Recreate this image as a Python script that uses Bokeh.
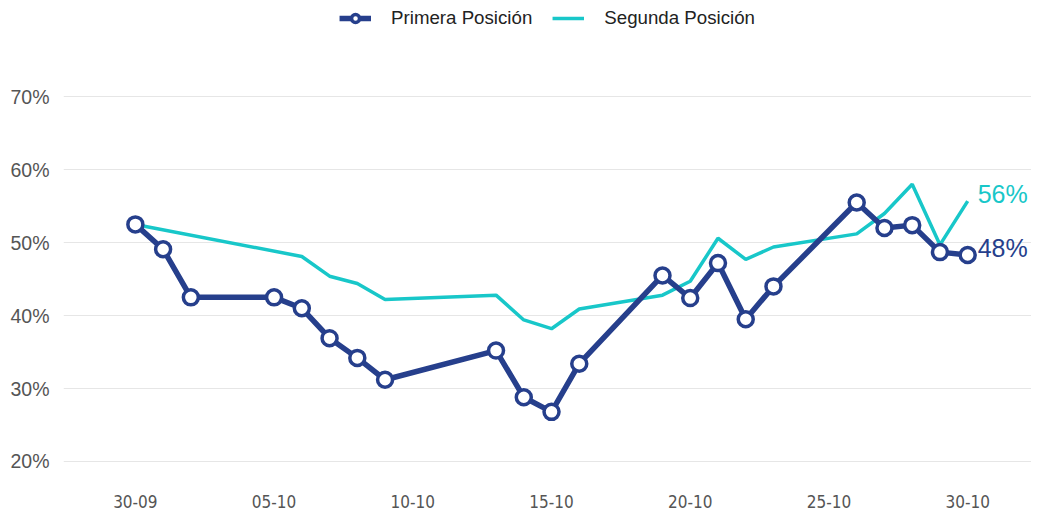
from datetime import datetime, timedelta, timezone
from bokeh.plotting import figure
from bokeh.models import (ColumnDataSource, Range1d, FixedTicker, DatetimeTickFormatter,
                          Legend, LegendItem, NumeralTickFormatter)
from bokeh.core.properties import value
from bokeh.embed import file_html
from bokeh.resources import INLINE

# ---- data ----
primera_dates = ["2023-09-30", "2023-10-01", "2023-10-02", "2023-10-05", "2023-10-06",
                 "2023-10-07", "2023-10-08", "2023-10-09", "2023-10-13", "2023-10-14",
                 "2023-10-15", "2023-10-16", "2023-10-19", "2023-10-20", "2023-10-21",
                 "2023-10-22", "2023-10-23", "2023-10-26", "2023-10-27", "2023-10-28",
                 "2023-10-29", "2023-10-30"]
primera_vals = [52.5, 49.1, 42.5, 42.5, 41.0, 36.9, 34.2, 31.2, 35.2, 28.8,
                26.8, 33.4, 45.5, 42.4, 47.2, 39.5, 44.0, 55.5, 52.0, 52.4,
                48.7, 48.3]

segunda_dates = ["2023-09-30", "2023-10-06", "2023-10-07", "2023-10-08", "2023-10-09",
                 "2023-10-13", "2023-10-14", "2023-10-15", "2023-10-16", "2023-10-19",
                 "2023-10-20", "2023-10-21", "2023-10-22", "2023-10-23", "2023-10-26",
                 "2023-10-27", "2023-10-28", "2023-10-29", "2023-10-30"]
segunda_vals = [52.5, 48.1, 45.4, 44.4, 42.2, 42.8, 39.4, 38.2, 40.9, 42.8,
                44.7, 50.6, 47.7, 49.4, 51.2, 54.0, 58.0, 49.7, 55.7]

x_tick_dates = ["2023-09-30", "2023-10-05", "2023-10-10", "2023-10-15",
                "2023-10-20", "2023-10-25", "2023-10-30"]
y_ticks = [20, 30, 40, 50, 60, 70]
series_names = ["Primera Posición", "Segunda Posición"]

DARK = "#263F8C"
CYAN = "#18C7C9"
FONT = "Liberation Sans"
NARROW = "'Liberation Sans Narrow', 'DejaVu Sans Condensed', 'Liberation Sans', sans-serif"

def to_dt(lst):
    return [datetime.strptime(d, "%Y-%m-%d").replace(tzinfo=timezone.utc) for d in lst]

def to_ms(d):
    return d.timestamp() * 1000.0

p_x = to_dt(primera_dates)
s_x = to_dt(segunda_dates)
tick_ms = [to_ms(d) for d in to_dt(x_tick_dates)]

p = figure(width=1031, height=510, x_axis_type="datetime", output_backend="svg",
           toolbar_location=None,
           x_range=Range1d(start=p_x[0] - timedelta(days=2.59),
                           end=p_x[-1] + timedelta(days=2.3)),
           y_range=Range1d(start=17.25, end=83.2),
           min_border_left=63, min_border_right=0, min_border_top=0, min_border_bottom=24)
p.outline_line_color = None
p.background_fill_color = "white"
p.border_fill_color = "white"

src_p = ColumnDataSource(dict(x=p_x, y=primera_vals))
src_s = ColumnDataSource(dict(x=s_x, y=segunda_vals))

r_s = p.line("x", "y", source=src_s, line_color=CYAN, line_width=3.5)
r_pl = p.line("x", "y", source=src_p, line_color=DARK, line_width=5.5)
r_pm = p.scatter("x", "y", source=src_p, size=15, fill_color="white",
                 line_color=DARK, line_width=3.5)

# end labels
lbl = ColumnDataSource(dict(
    x=[p_x[-1], s_x[-1]],
    y=[primera_vals[-1], segunda_vals[-1]],
    t=["%d%%" % round(primera_vals[-1]), "%d%%" % round(segunda_vals[-1])],
    c=[DARK, CYAN]))
p.text("x", "y", text="t", source=lbl, text_color="c", x_offset=10, y_offset=-7,
       text_baseline="middle", text_align="left", text_font=value(FONT),
       text_font_size="25px")

# axes
p.xgrid.grid_line_color = None
p.ygrid.grid_line_color = "#e6e6e6"
p.ygrid.grid_line_width = 1
p.yaxis.ticker = FixedTicker(ticks=y_ticks)
p.yaxis.formatter = NumeralTickFormatter(format="0")
p.yaxis.major_label_overrides = {v: "%d%%" % v for v in y_ticks}
p.xaxis.ticker = FixedTicker(ticks=tick_ms)
p.xaxis.formatter = DatetimeTickFormatter(days="%d-%m", months="%d-%m")
for ax in (p.xaxis[0], p.yaxis[0]):
    ax.axis_line_color = None
    ax.major_tick_line_color = None
    ax.minor_tick_line_color = None
    ax.major_label_text_color = "#555555"
p.yaxis.major_label_text_font = FONT
p.yaxis.major_label_text_font_size = "19.5px"
p.yaxis.major_label_standoff = 8
p.xaxis.major_label_text_font = NARROW
p.xaxis.major_label_text_font_size = "17px"
p.xaxis.major_label_standoff = 7

legend = Legend(items=[LegendItem(label=series_names[0], renderers=[r_pl, r_pm]),
                       LegendItem(label=series_names[1], renderers=[r_s])],
                orientation="horizontal", location="top_center",
                glyph_width=32, label_standoff=20, spacing=20,
                label_text_font=FONT, label_text_font_size="18.7px",
                label_text_color="#222222", border_line_color=None,
                background_fill_alpha=0, margin=7, padding=2)
p.add_layout(legend)

open("out.html", "w").write(file_html(p, INLINE))
